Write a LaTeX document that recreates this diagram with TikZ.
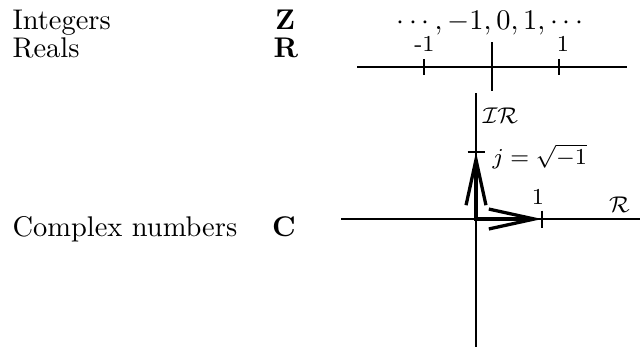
\documentclass[tikz,border=0pt]{standalone}
\usetikzlibrary{arrows.meta}
\begin{document}
\begin{tikzpicture}[x=0.3515pt,y=-0.3515pt,
  lbl/.style={inner sep=0pt,anchor=base west},
  sym/.style={inner sep=0pt,anchor=base},
  small/.style={inner sep=0pt,anchor=base,font=\footnotesize},
  axis/.style={line width=0.4pt,black},
  unitvec/.style={line width=1.15pt,{Straight Barb[length=16pt,width=7pt]}-{Straight Barb[length=16pt,width=7pt]}}]
\useasboundingbox (0,0) rectangle (640,347);
% left column
\node[lbl] (tint) at (12,29) {Integers};
\node[lbl] (treal) at (12,57) {Reals};
\node[lbl] (tcplx) at (12,236) {Complex numbers};
\node[sym] (sZ) at (285,29) {$\mathbf{Z}$};
\node[sym] (sR) at (286,57) {$\mathbf{R}$};
\node[sym] (sC) at (284,236) {$\mathbf{C}$};
% integers
\node[sym] (ints) at (490,29) {$\cdots,-1,0,1,\cdots$};
% real line
\coordinate (rl) at (357,67);
\coordinate (rr) at (627,67);
\coordinate (rm1) at (424,67);
\coordinate (rp1) at (559,67);
\coordinate (rz) at (492,67);
\draw[axis] (rl) -- (rr);
\draw[axis] ([shift={(0,-8)}]rm1) -- ([shift={(0,8)}]rm1);
\draw[axis] ([shift={(0,-8)}]rp1) -- ([shift={(0,8)}]rp1);
\draw[axis] ([shift={(0,-25)}]rz) -- ([shift={(0,24)}]rz);
\node[small] (lm1) at (424.5,51) {-1};
\node[small] (lp1) at (563,51) {1};
% complex plane
\coordinate (O) at (476,219);
\coordinate (ct) at (476,93);
\coordinate (cb) at (476,347);
\coordinate (cl) at (341,219);
\coordinate (cr) at (640,219);
\coordinate (J) at (476,152);
\coordinate (One) at (542,219);
\draw[axis] (ct) -- (cb);
\draw[axis] (cl) -- (cr);
\draw[axis] ([shift={(-8.5,0)}]J) -- ([shift={(8.5,0)}]J);
\draw[axis] ([shift={(0,-8.5)}]One) -- ([shift={(0,8.5)}]One);
\draw[unitvec] (J) -- (O) -- (One);
\node[small,anchor=base west] (lIR) at (482,123) {$\mathcal{IR}$};
\node[small,anchor=base west] (lj) at (492,164) {$j=\sqrt{-1}$};
\node[small] (lone) at (538,204) {1};
\node[small] (lR) at (619.5,212) {$\mathcal{R}$};
\end{tikzpicture}
\end{document}
